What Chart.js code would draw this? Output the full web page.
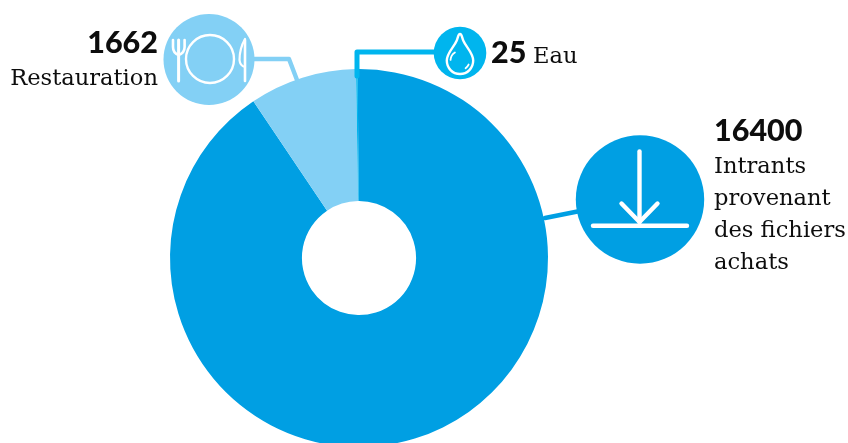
<!DOCTYPE html>
<html lang="fr">
<head>
<meta charset="utf-8">
<title>Répartition</title>
<script src="https://cdn.jsdelivr.net/npm/chart.js@4/dist/chart.umd.min.js"></script>
<style>
  html, body { margin: 0; padding: 0; background: #fff; overflow: hidden; }
  #cadre { position: relative; width: 848px; height: 443px; overflow: hidden; }
</style>
</head>
<body>
<div id="cadre"><canvas id="anneau" width="848" height="516"></canvas></div>
<script>
const categories = ['Intrants provenant des fichiers achats', 'Restauration', 'Eau'];
const valeurs = [16400, 1662, 25];
const couleurs = ['#009FE3', '#83D0F5', '#00B5EE'];

const BLANC = '#FFFFFF';
const TEXTE = '#0D0D0D';
const POLICE_CHIFFRE = '900 30.5px Lato';
const POLICE_LIBELLE = '22.6px "DejaVu Serif"';

function trait(ctx, couleur, largeur, points) {
    ctx.strokeStyle = couleur;
    ctx.lineWidth = largeur;
    ctx.lineCap = 'round';
    ctx.lineJoin = 'round';
    ctx.beginPath();
    points.forEach((p, i) => i ? ctx.lineTo(p[0], p[1]) : ctx.moveTo(p[0], p[1]));
    ctx.stroke();
}

function disque(ctx, couleur, x, y, r) {
    ctx.fillStyle = couleur;
    ctx.beginPath();
    ctx.arc(x, y, r, 0, Math.PI * 2);
    ctx.fill();
}

function texte(ctx, contenu, police, x, y, align) {
    ctx.font = police;
    ctx.fillStyle = TEXTE;
    ctx.textAlign = align;
    ctx.textBaseline = 'alphabetic';
    ctx.fillText(contenu, x, y);
}

function iconeCouverts(ctx) {
    ctx.strokeStyle = BLANC;
    ctx.lineWidth = 2.4;
    ctx.beginPath();
    ctx.arc(210, 59, 24, 0, Math.PI * 2);
    ctx.stroke();
    // fourchette
    trait(ctx, BLANC, 3, [[178.6, 40], [178.6, 81]]);
    ctx.lineWidth = 2.6;
    ctx.beginPath();
    ctx.moveTo(173, 40);
    ctx.lineTo(173, 47);
    ctx.quadraticCurveTo(173, 53, 178.6, 55);
    ctx.quadraticCurveTo(184.6, 53, 184.6, 47);
    ctx.lineTo(184.6, 40);
    ctx.stroke();
    // couteau
    trait(ctx, BLANC, 2.6, [[245, 40], [245, 81]]);
    ctx.lineWidth = 2.2;
    ctx.beginPath();
    ctx.moveTo(245, 39);
    ctx.bezierCurveTo(241, 46, 239.5, 54, 239.5, 60);
    ctx.quadraticCurveTo(240, 66, 245, 67);
    ctx.stroke();
}

function iconeGoutte(ctx) {
    ctx.strokeStyle = BLANC;
    ctx.lineWidth = 2.4;
    ctx.lineCap = 'round';
    ctx.beginPath();
    ctx.moveTo(460, 34);
    ctx.bezierCurveTo(462, 34, 462, 38, 463.5, 41);
    ctx.bezierCurveTo(466, 47, 473.2, 53, 473.2, 60.5);
    ctx.bezierCurveTo(473.2, 68, 467.5, 74, 460, 74);
    ctx.bezierCurveTo(452.5, 74, 446.8, 68, 446.8, 60.5);
    ctx.bezierCurveTo(446.8, 53, 454, 47, 456.5, 41);
    ctx.bezierCurveTo(458, 38, 458, 34, 460, 34);
    ctx.stroke();
    ctx.lineWidth = 1.8;
    ctx.beginPath();
    ctx.arc(460, 60.5, 9.5, Math.PI * 1.02, Math.PI * 1.32);
    ctx.stroke();
    ctx.beginPath();
    ctx.arc(460, 60.5, 9.5, Math.PI * 0.14, Math.PI * 0.3);
    ctx.stroke();
}

function iconeFleche(ctx) {
    trait(ctx, BLANC, 4.4, [[639.5, 151.5], [639.5, 222]]);
    trait(ctx, BLANC, 4.4, [[621.5, 203.5], [639.5, 222], [657.5, 203.5]]);
    trait(ctx, BLANC, 4.4, [[593, 225.7], [687, 225.7]]);
}

// Pastilles, traits de rappel et libellés autour de l'anneau
const annotations = {
    id: 'annotations',
    afterDatasetsDraw(chart) {
        const ctx = chart.ctx;
        ctx.save();

        trait(ctx, couleurs[1], 4.4, [[250, 59], [289, 59], [297, 80]]);
        disque(ctx, couleurs[1], 209, 59.5, 45.5);
        iconeCouverts(ctx);
        texte(ctx, String(valeurs[1]), POLICE_CHIFFRE, 158, 53, 'right');
        texte(ctx, categories[1], POLICE_LIBELLE, 158, 85, 'right');

        trait(ctx, couleurs[2], 5, [[436, 52], [357, 52], [357, 76]]);
        disque(ctx, couleurs[2], 460, 53, 26.3);
        iconeGoutte(ctx);
        texte(ctx, String(valeurs[2]), POLICE_CHIFFRE, 491, 63, 'left');
        texte(ctx, categories[2], POLICE_LIBELLE, 533, 63, 'left');

        trait(ctx, couleurs[0], 4.4, [[545, 218], [580, 211]]);
        disque(ctx, couleurs[0], 640, 199.5, 64.2);
        iconeFleche(ctx);
        texte(ctx, String(valeurs[0]), POLICE_CHIFFRE, 714, 141, 'left');
        ['Intrants', 'provenant', 'des fichiers', 'achats'].forEach((ligne, i) => {
            texte(ctx, ligne, POLICE_LIBELLE, 714, 173 + i * 32, 'left');
        });

        ctx.restore();
    }
};

new Chart(document.getElementById('anneau').getContext('2d'), {
    type: 'doughnut',
    data: {
        labels: categories,
        datasets: [{
            data: valeurs,
            backgroundColor: couleurs,
            borderWidth: 0
        }]
    },
    plugins: [annotations],
    options: {
        responsive: false,
        animation: false,
        radius: 189,
        cutout: '30.2%',
        rotation: -0.4,
        layout: { padding: { right: 130 } },
        plugins: {
            legend: { display: false },
            tooltip: { enabled: false }
        }
    }
});
</script>
</body>
</html>
